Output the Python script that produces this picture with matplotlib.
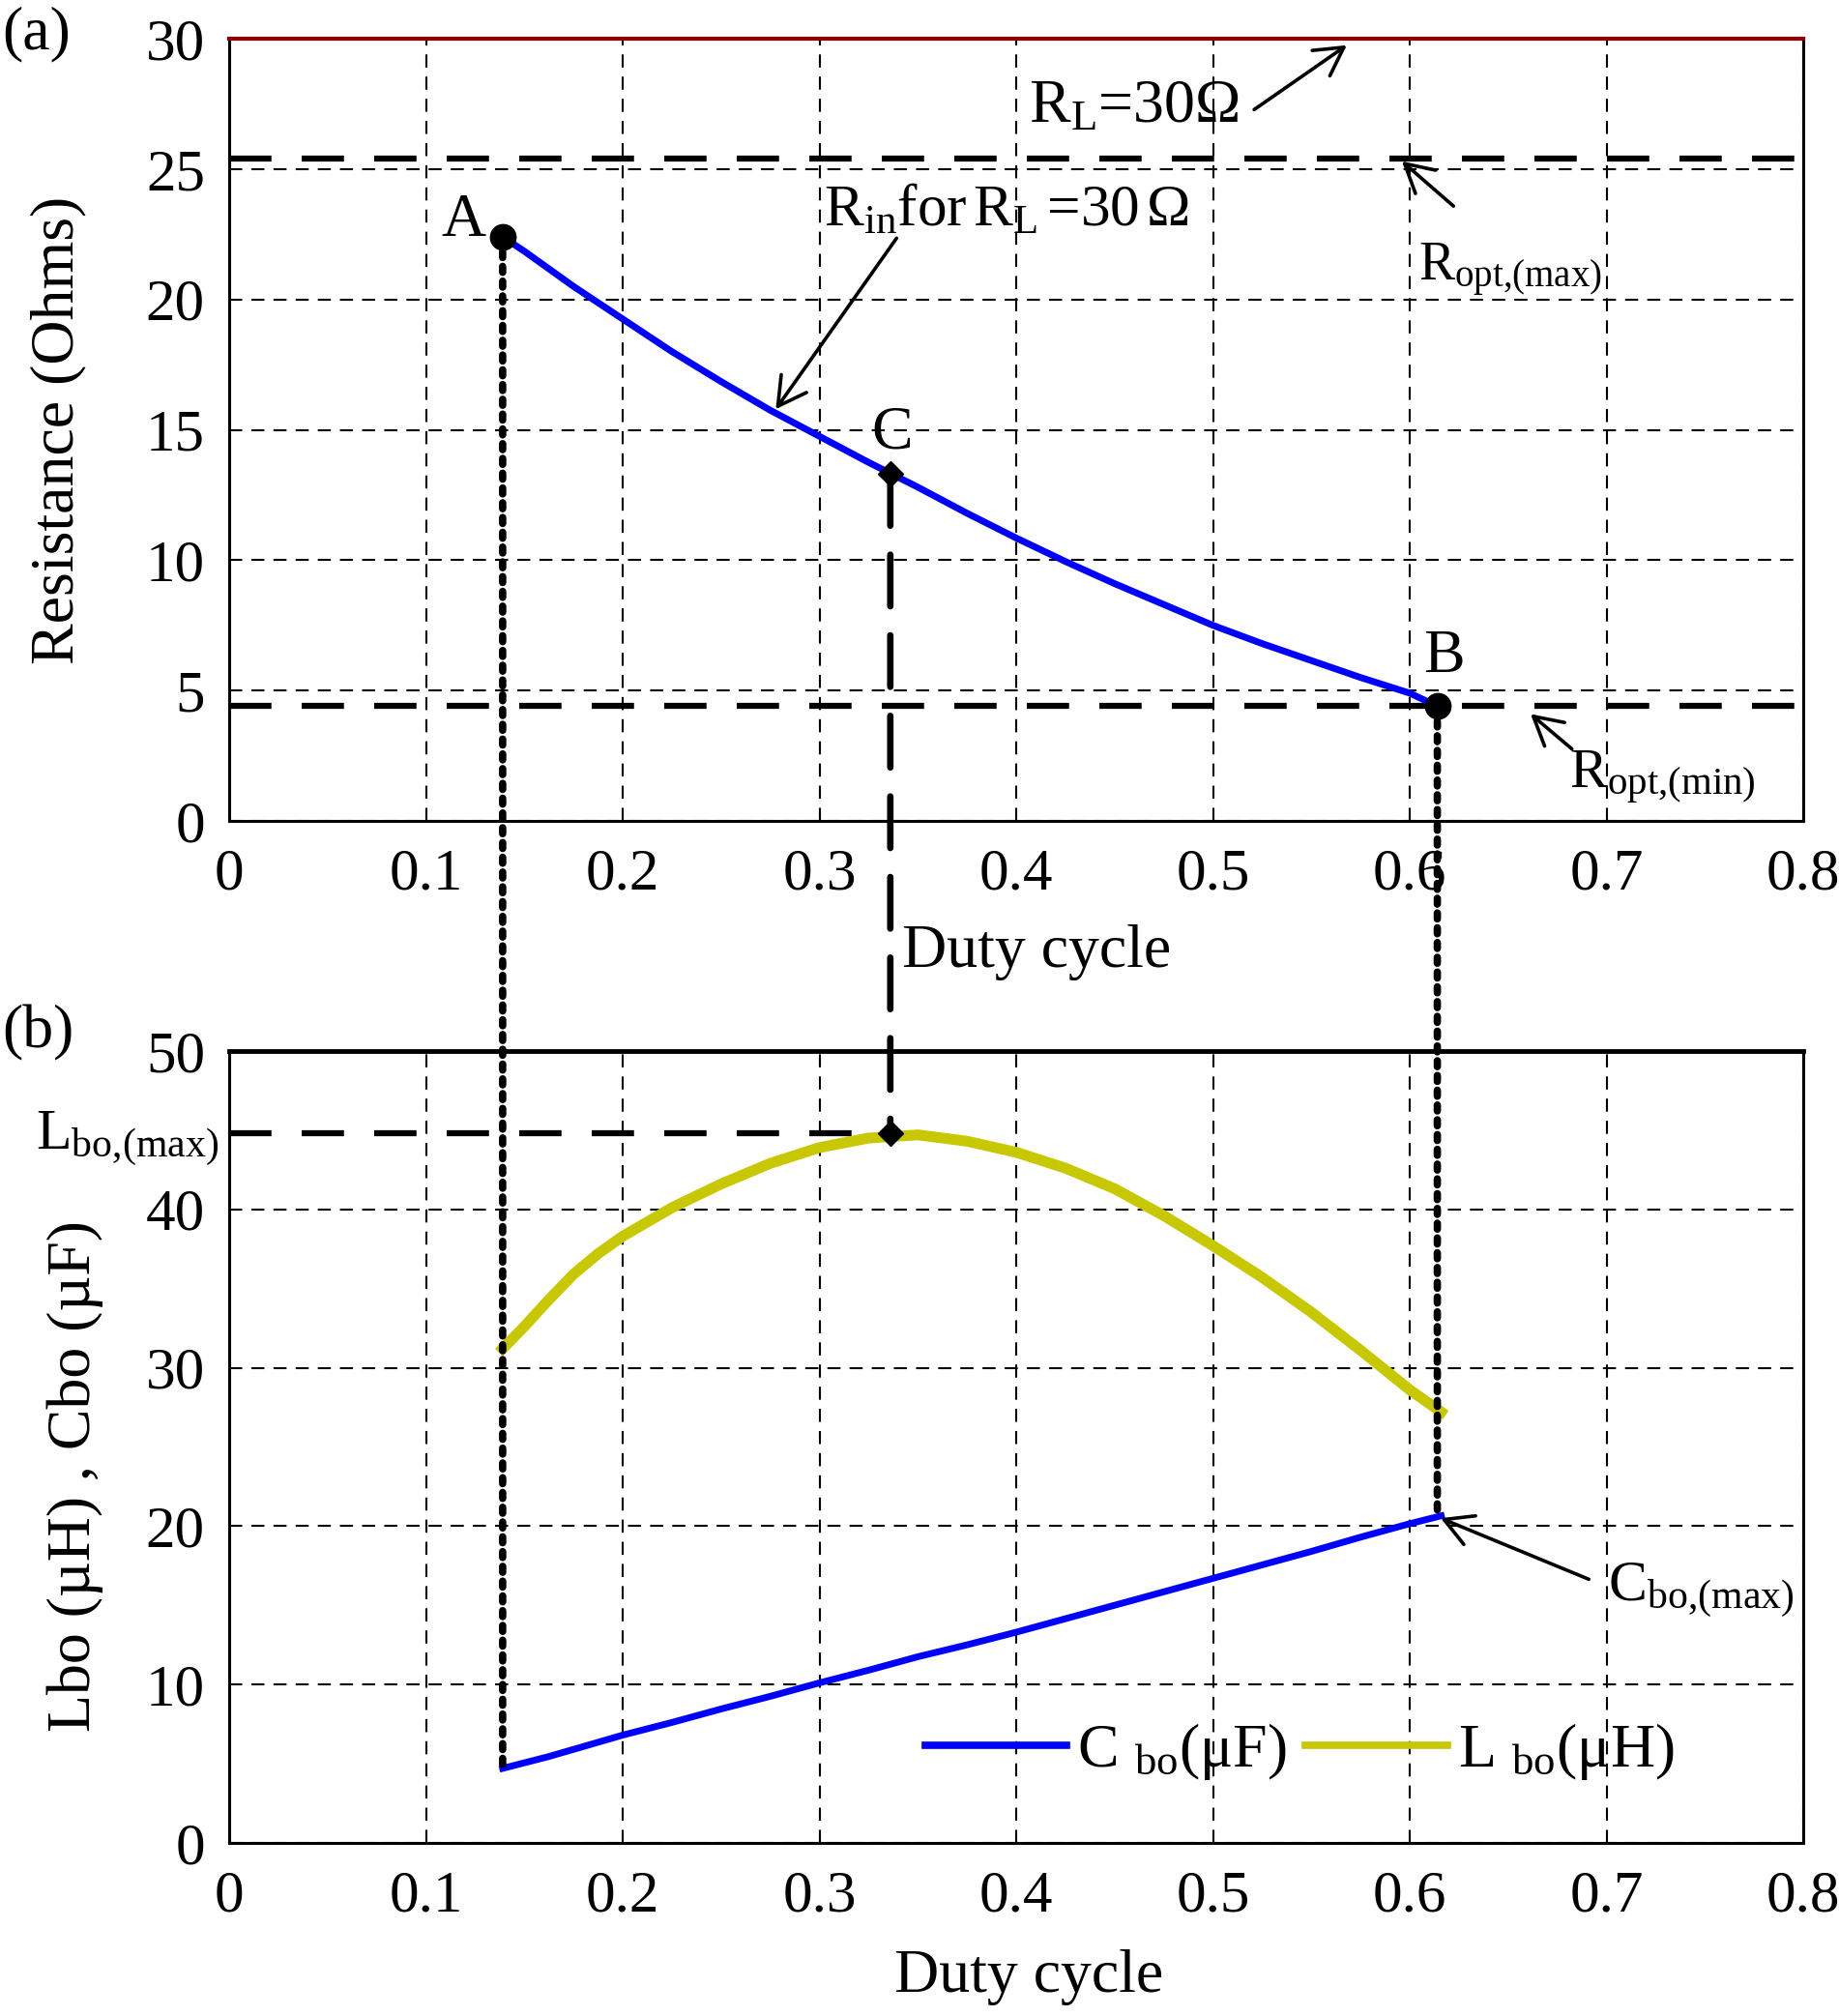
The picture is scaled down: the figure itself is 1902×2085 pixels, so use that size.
"""
Resistencia de entrada y componentes Lbo / Cbo frente al ciclo de trabajo.
"""
import matplotlib
matplotlib.use("Agg")
import matplotlib.pyplot as plt
from matplotlib.patches import ConnectionPatch
import matplotlib.transforms as mtransforms

plt.rcParams['font.family'] = ['Liberation Serif', 'DejaVu Serif']
plt.rcParams['mathtext.fontset'] = 'custom'
plt.rcParams['mathtext.rm'] = 'Liberation Serif'
plt.rcParams['mathtext.it'] = 'Liberation Serif:italic'
plt.rcParams['mathtext.bf'] = 'Liberation Serif:bold'

# --- datos ---
duty_r = [0.139, 0.15, 0.175, 0.2, 0.225, 0.25, 0.275, 0.3, 0.325, 0.35, 0.375,
          0.4, 0.425, 0.45, 0.475, 0.5, 0.525, 0.55, 0.575, 0.6, 0.614]
r_in = [22.4, 21.85, 20.5, 19.25, 18.0, 16.85, 15.75, 14.75, 13.75, 12.8, 11.8,
        10.85, 9.95, 9.1, 8.3, 7.5, 6.8, 6.15, 5.5, 4.9, 4.4]

duty_b = [0.139, 0.15, 0.1625, 0.175, 0.1875, 0.2, 0.225, 0.25, 0.275, 0.3, 0.325,
          0.35, 0.375, 0.4, 0.425, 0.45, 0.475, 0.5, 0.525, 0.55, 0.575, 0.6, 0.616]
l_bo = [31.2, 32.6, 34.3, 35.9, 37.2, 38.3, 40.1, 41.6, 42.9, 43.9, 44.5,
        44.7, 44.3, 43.6, 42.6, 41.3, 39.6, 37.7, 35.7, 33.5, 31.1, 28.6, 27.2]
c_bo = [4.7, 5.05, 5.45, 5.9, 6.35, 6.8, 7.6, 8.45, 9.25, 10.1, 10.9,
        11.75, 12.5, 13.3, 14.15, 15.0, 15.85, 16.7, 17.55, 18.4, 19.3, 20.15, 20.65]

R_L = 30
R_OPT_MAX = 25.4
R_OPT_MIN = 4.4
L_BO_MAX = 44.8
punto_a = (0.139, 22.4)
punto_b = (0.614, 4.4)
punto_c = (0.336, 13.3)

x_ticks = [0, 0.1, 0.2, 0.3, 0.4, 0.5, 0.6, 0.7, 0.8]
x_labels = ['0', '0.1', '0.2', '0.3', '0.4', '0.5', '0.6', '0.7', '0.8']
y_ticks_r = [0, 5, 10, 15, 20, 25, 30]
y_ticks_lc = [0, 10, 20, 30, 40, 50]

AZUL = '#0000ff'
AMARILLO = '#c8c800'
ROJO = '#8b0000'
FS_TICK = 44
FS = 46

fig = plt.figure(figsize=(19.02, 20.85), dpi=100)
ax1 = fig.add_axes([0.1246, 0.5928, 0.856, 0.388])
ax2 = fig.add_axes([0.1246, 0.0859, 0.856, 0.3928])

for ax in (ax1, ax2):
    ax.set_xlim(0, 0.8)
    ax.set_xticks(x_ticks)
    ax.set_xticklabels(x_labels)
    ax.grid(True, color='k', lw=1.5, linestyle=(0, (6.5, 4.5)))
    ax.tick_params(length=0, labelsize=FS_TICK, pad=20)
    ax.tick_params(axis='y', pad=18)
    for s in ax.spines.values():
        s.set_linewidth(2.2)

flecha = dict(arrowstyle='->,head_length=0.45,head_width=0.25', lw=2.6,
              color='k', mutation_scale=46, shrinkA=0, shrinkB=0)

# ---------- (a) ----------
ax1.set_ylim(0, 30)
ax1.set_yticks(y_ticks_r)
ax1.axhline(R_L, color=ROJO, lw=3, clip_on=False, zorder=4)
ax1.axhline(R_OPT_MAX, xmax=0.995, color='k', lw=4.5, linestyle=(0, (7, 5)))
ax1.axhline(R_OPT_MIN, xmax=0.995, color='k', lw=4.5, linestyle=(0, (7, 5)))
ax1.plot(duty_r, r_in, color=AZUL, lw=5, zorder=3)
ax1.plot(*punto_a, 'o', color='k', ms=19, zorder=5)
ax1.plot(*punto_b, 'o', color='k', ms=19, zorder=5)
ax1.plot(*punto_c, 'D', color='k', ms=13, zorder=5)
ax1.set_ylabel('Resistance (Ohms)', fontsize=FS, va='center')
ax1.yaxis.set_label_coords(-0.1087, 0.5)
ax1.set_xlabel('Duty cycle', fontsize=FS, va='center')
ax1.xaxis.set_label_coords(0.513, -0.168)

ax1.text(0.1307, 22.45, 'A', fontsize=FS, ha='right', va='baseline')
ax1.text(0.337, 14.3, 'C', fontsize=FS, ha='center', va='baseline')
ax1.text(0.6176, 5.72, 'B', fontsize=FS, ha='center', va='baseline')

ax1.text(0.4065, 26.8, r'R$_{\mathrm{L}}$=30Ω', fontsize=FS, va='baseline')
ax1.annotate('', xy=(0.568, 29.75), xytext=(0.5209, 27.28), arrowprops=flecha)
ax1.text(0.302, 22.84, r'R$_{\mathrm{in}}$for$\,$R$_{\mathrm{L}}$$\,$=30$\,$Ω',
         fontsize=44, va='baseline')
ax1.annotate('', xy=(0.2778, 15.79), xytext=(0.3392, 22.35), arrowprops=flecha)
ax1.text(0.6046, 20.77, r'R$_{\mathrm{opt{,}(max)}}$', fontsize=40, va='baseline')
ax1.annotate('', xy=(0.596, 25.3), xytext=(0.6222, 23.58), arrowprops=flecha)
ax1.text(0.681, 1.28, r'R$_{\mathrm{opt{,}(min)}}$', fontsize=42, va='baseline')
ax1.annotate('', xy=(0.6614, 4.1), xytext=(0.6824, 2.76), arrowprops=flecha)

# ---------- (b) ----------
ax2.set_ylim(0, 50)
ax2.set_yticks(y_ticks_lc)
ax2.spines['top'].set_linewidth(3.5)
ax2.plot(duty_b, c_bo, color=AZUL, lw=5, zorder=3, label=r'C $_{\mathrm{bo}}$(μF)')
ax2.plot(duty_b, l_bo, color=AMARILLO, lw=8, zorder=3, label=r'L $_{\mathrm{bo}}$(μH)')
ax2.plot([0, punto_c[0]], [L_BO_MAX, L_BO_MAX], color='k', lw=4.5,
         linestyle=(0, (7, 5)), zorder=2)
ax2.plot(punto_c[0], L_BO_MAX, 'D', color='k', ms=13, zorder=5)
ax2.set_ylabel('Lbo (µH) , Cbo (µF)', fontsize=FS, va='center')
ax2.yaxis.set_label_coords(-0.098, 0.463)
ax2.set_xlabel('Duty cycle', fontsize=FS, va='center')
ax2.xaxis.set_label_coords(0.508, -0.170)

trans = mtransforms.blended_transform_factory(ax2.transAxes, ax2.transData)
ax2.text(-0.0065, 43.8, r'L$_{\mathrm{bo{,}(max)}}$', transform=trans, fontsize=43,
         ha='right', va='baseline')
ax2.text(0.7007, 15.26, r'C$_{\mathrm{bo{,}(max)}}$', fontsize=43, va='baseline')
ax2.annotate('', xy=(0.6157, 20.5), xytext=(0.691, 16.64), arrowprops=flecha)

leg = ax2.legend(ncol=2, frameon=False, fontsize=FS, loc='center',
                 bbox_to_anchor=(0.68, 0.115), handlelength=2.3,
                 handletextpad=0.17, columnspacing=0.3)
for linea in leg.get_lines():
    linea.set_linewidth(5.5)

# lineas verticales que unen ambos graficos
for xa, ya, yb, estilo, grosor in [
        (punto_a[0], punto_a[1], c_bo[0], (0, (0.8, 1.2)), 5.5),
        (punto_b[0], punto_b[1], c_bo[-1], (0, (0.8, 1.2)), 5.5),
        (punto_c[0], punto_c[1], L_BO_MAX, (0, (8, 4.5)), 4.8)]:
    con = ConnectionPatch(xyA=(xa, ya), coordsA=ax1.transData,
                          xyB=(xa, yb), coordsB=ax2.transData,
                          color='k', lw=grosor, linestyle=estilo)
    fig.add_artist(con)

fig.text(0.001, 0.983, '(a)', fontsize=FS, ha='left', va='center')
fig.text(0.001, 0.4878, '(b)', fontsize=FS, ha='left', va='center')

fig.savefig('out.png', dpi=100)
